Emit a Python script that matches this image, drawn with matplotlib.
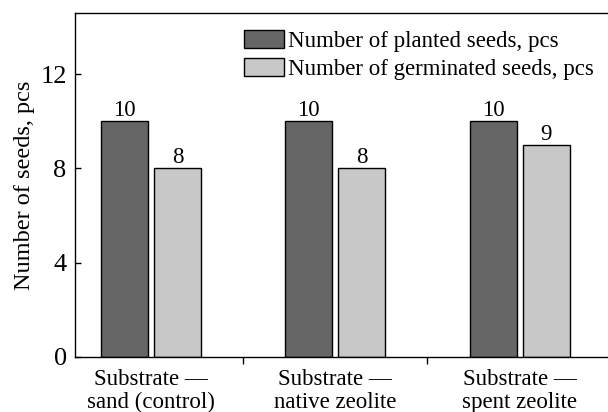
import matplotlib
matplotlib.use("Agg")
import matplotlib.pyplot as plt
import numpy as np
from matplotlib.patches import Patch

categories = ["Substrate —\nsand (control)", "Substrate —\nnative zeolite", "Substrate —\nspent zeolite"]
planted = [10, 10, 10]
germinated = [8, 8, 9]
series_labels = ["Number of planted seeds, pcs", "Number of germinated seeds, pcs"]
y_ticks = [0, 4, 8, 12]

plt.rcParams["font.family"] = ["Liberation Serif", "DejaVu Serif"]
plt.rcParams["font.size"] = 16

fig = plt.figure(figsize=(6.08, 4.12), dpi=100)
ax = fig.add_axes([0.1234, 0.1335, 0.8766, 0.835])

x = np.arange(len(categories))
w = 0.255
off = 0.144
dark, light = "#666666", "#c8c8c8"
b1 = ax.bar(x - off, planted, w, color=dark, edgecolor="black", linewidth=1)
b2 = ax.bar(x + off, germinated, w, color=light, edgecolor="black", linewidth=1)
ax.bar_label(b1, padding=0, fontsize=16.5)
ax.bar_label(b2, padding=0, fontsize=16.5)

ax.set_xlim(-0.413, 2.48)
ax.set_ylim(0, 14.6)
ax.set_yticks(y_ticks)
ax.set_xticks(x)
ax.set_xticklabels(categories, linespacing=1.1, fontsize=16.5)
ax.set_xticks([0.5, 1.5], minor=True)
ax.tick_params(axis="x", which="major", length=0, pad=9)
ax.tick_params(axis="x", which="minor", length=5, direction="out", width=1)
ax.tick_params(axis="y", direction="in", length=4, width=1, pad=6, labelsize=19)
ax.set_ylabel("Number of seeds, pcs", fontsize=17.5, labelpad=4)
ax.spines["right"].set_visible(False)
for s in ["left", "bottom", "top"]:
    ax.spines[s].set_linewidth(1)

handles = [Patch(facecolor=dark, edgecolor="black"), Patch(facecolor=light, edgecolor="black")]
ax.legend(handles, series_labels, loc="upper right", bbox_to_anchor=(0.983, 0.965),
          frameon=False, handlelength=1.75, handleheight=0.85, handletextpad=0.2,
          labelspacing=0.28, borderaxespad=0.1, borderpad=0.1, fontsize=16.5)

fig.savefig("out.png", dpi=100)
